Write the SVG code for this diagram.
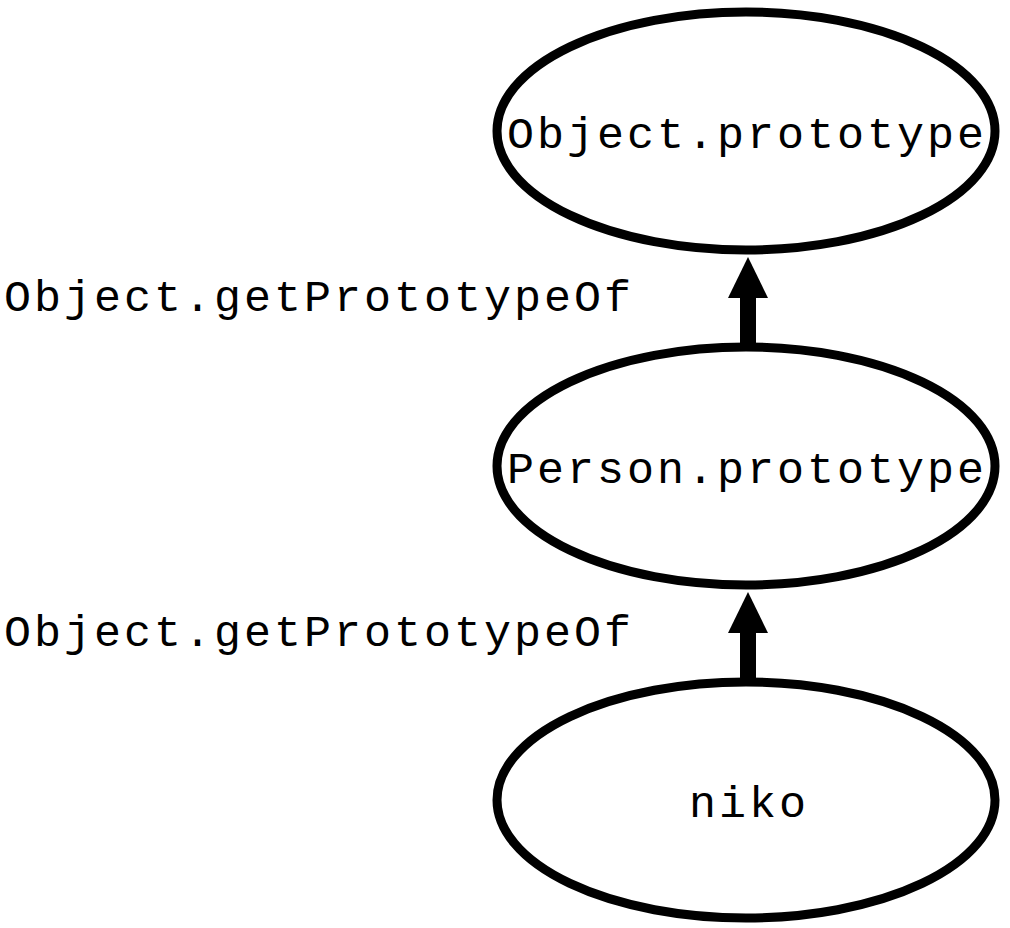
<svg xmlns="http://www.w3.org/2000/svg" width="1010" height="928" viewBox="0 0 1010 928">
<style>
.node ellipse{fill:#fff;stroke:#000;stroke-width:9}
text{font-family:"Liberation Mono","Courier New",monospace;font-size:45px;letter-spacing:3px;fill:#000}
.node text{text-anchor:middle}
.shaft{stroke:#000;stroke-width:16}
.head{fill:#000}
</style>
<rect width="1010" height="928" fill="#fff"/>
<g id="connectors">
<line class="shaft" x1="748" y1="295" x2="748" y2="343"/>
<polygon class="head" points="748,257 728,298 768,298"/>
<line class="shaft" x1="748" y1="630" x2="748" y2="678"/>
<polygon class="head" points="748,592 728,633 768,633"/>
<text x="4" y="311">Object.getPrototypeOf</text>
<text x="4" y="646">Object.getPrototypeOf</text>
</g>
<g id="object-prototype" class="node">
<ellipse cx="746" cy="131" rx="249" ry="119"/>
<text x="747" y="148">Object.prototype</text>
</g>
<g id="person-prototype" class="node">
<ellipse cx="746" cy="466" rx="249" ry="119"/>
<text x="747" y="483">Person.prototype</text>
</g>
<g id="niko" class="node">
<ellipse cx="746" cy="800" rx="249" ry="118"/>
<text x="749" y="817">niko</text>
</g>
</svg>
